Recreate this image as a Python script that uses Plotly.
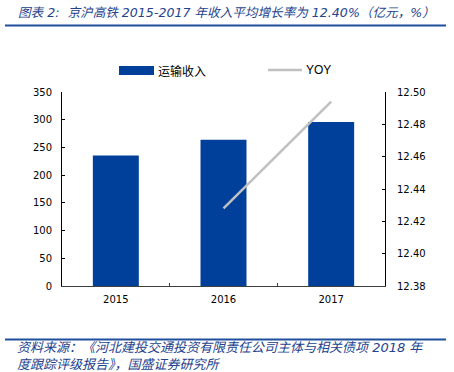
import plotly.graph_objects as go

years = ["2015", "2016", "2017"]
revenue = [235.5, 264, 296]
yoy = [None, 12.428, 12.494]

bar_name = "运输收入"
line_name = "YOY"
title_text = "图表 2:  京沪高铁 2015-2017 年收入平均增长率为 12.40%（亿元，%）"
source_1 = "资料来源：《河北建投交通投资有限责任公司主体与相关债项 2018 年"
source_2 = "度跟踪评级报告》，国盛证券研究所"

W, H = 454, 372
L, R, T, B = 62, 69, 92, 86
PW, PH = W - L - R, H - T - B

def px(x):
    return (x - L) / PW

def py(y):
    return (H - B - y) / PH

BLUE = "#00409A"
NAVY = "#24428E"
MIX = "DejaVu Sans, Noto Sans CJK SC"
CJK = "Noto Sans CJK SC"
NUM = "DejaVu Sans"

fig = go.Figure()
fig.add_trace(go.Bar(x=years, y=revenue, name=bar_name, marker=dict(color=BLUE, line=dict(width=0)),
                     yaxis="y"))
fig.add_trace(go.Scatter(x=years, y=yoy, name=line_name, mode="lines",
                         line=dict(color="#C0C0C0", width=2.5), yaxis="y2", connectgaps=False))

fig.update_layout(
    width=W, height=H,
    margin=dict(l=L, r=R, t=T, b=B),
    paper_bgcolor="white", plot_bgcolor="white",
    showlegend=False,
    bargap=0.573,
    xaxis=dict(type="category", showgrid=False, showline=True, linecolor="#404040", linewidth=1,
               ticks="inside", ticklen=3, tickcolor="#404040", tickson="boundaries",
               ticklabelstandoff=4,
               tickfont=dict(family=NUM, size=10, color="#000"), mirror=False),
    yaxis=dict(range=[0, 350], dtick=50, showgrid=False, zeroline=False, showline=True,
               linecolor="#000", linewidth=1, ticks="inside", ticklen=3, tickcolor="#000",
               ticklabelstandoff=7,
               tickfont=dict(family=NUM, size=10, color="#000")),
    yaxis2=dict(range=[12.38, 12.50], dtick=0.02, tickformat=".2f", overlaying="y", side="right",
                showgrid=False, zeroline=False, showline=True, linecolor="#000", linewidth=1,
                ticks="inside", ticklen=3, tickcolor="#000", ticklabelstandoff=9,
                tickfont=dict(family=NUM, size=10, color="#000")),
)

shapes = [
    dict(type="line", xref="paper", yref="paper", x0=px(5), x1=px(446), y0=py(25.5), y1=py(25.5),
         line=dict(color="#1F4E9C", width=2)),
    dict(type="line", xref="paper", yref="paper", x0=px(5), x1=px(446), y0=py(339.5), y1=py(339.5),
         line=dict(color="#1F4E9C", width=2)),
    dict(type="rect", xref="paper", yref="paper", x0=px(119), x1=px(154), y0=py(75), y1=py(66),
         fillcolor=BLUE, line=dict(width=0)),
    dict(type="line", xref="paper", yref="paper", x0=px(268), x1=px(302), y0=py(70), y1=py(70),
         line=dict(color="#C0C0C0", width=2.5)),
]
fig.update_layout(shapes=shapes)

ann = [
    dict(text="<i>" + title_text + "</i>", x=px(16), y=py(12.5), xanchor="left", yanchor="middle",
         font=dict(family=MIX, size=12.6, color=NAVY)),
    dict(text=bar_name, x=px(156), y=py(70.5), xanchor="left", yanchor="middle",
         font=dict(family=CJK, size=12, color="#000")),
    dict(text=line_name, x=px(304), y=py(70.5), xanchor="left", yanchor="middle",
         font=dict(family="Liberation Sans", size=12, color="#000")),
    dict(text="<i>" + source_1 + "<br>" + source_2 + "</i>", x=px(15), y=py(355.5),
         xanchor="left", yanchor="middle", align="left",
         font=dict(family=MIX, size=13, color=NAVY)),
]
for a in ann:
    a.update(xref="paper", yref="paper", showarrow=False, xshift=0, yshift=0)
fig.update_layout(annotations=ann)

fig.write_html("out.html")
